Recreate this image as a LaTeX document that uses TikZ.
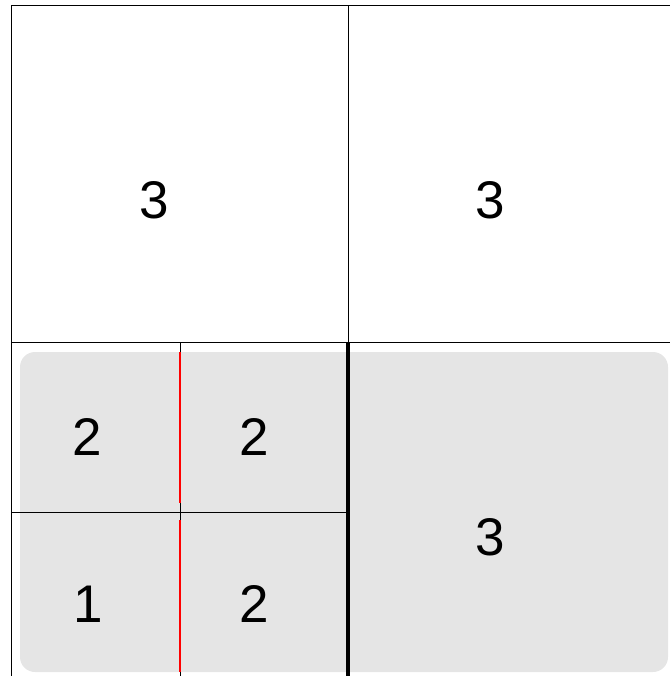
\documentclass[tikz,border=0pt]{standalone}
\usepackage{fontspec}
\setmainfont{Liberation Sans}
\tikzset{
  cell/.style={font=\fontsize{53}{53}\selectfont},
  gridline/.style={black, line width=1pt},
  cutline/.style={red, line width=2pt},
  wall/.style={black, line width=4pt}
}
\begin{document}
\begin{tikzpicture}[x=1pt,y=-1pt]
    \useasboundingbox (0,0) rectangle (670,676);
    % shaded region
    \fill[black!10, rounded corners=15pt] (20,352) rectangle (668,672);
    % grid
    \draw[gridline] (11,676) -- (11,6) -- (670,6);
    \draw[gridline] (11,342) -- (670,342);
    \draw[gridline] (348,6) -- (348,342);
    \draw[gridline] (11,512) -- (348,512);
    \draw[gridline] (180,342) -- (180,676);
    \draw[cutline] (180,352) -- (180,503);
    \draw[cutline] (180,520) -- (180,672);
    \draw[wall] (348,342) -- (348,676);
    % values
    \node[cell] (a) at (154,200) {3};
    \node[cell] (b) at (490,200) {3};
    \node[cell] (c) at (87,437) {2};
    \node[cell] (d) at (254,437) {2};
    \node[cell] (e) at (88,604) {1};
    \node[cell] (f) at (254,604) {2};
    \node[cell] (g) at (490,537) {3};
\end{tikzpicture}
\end{document}
